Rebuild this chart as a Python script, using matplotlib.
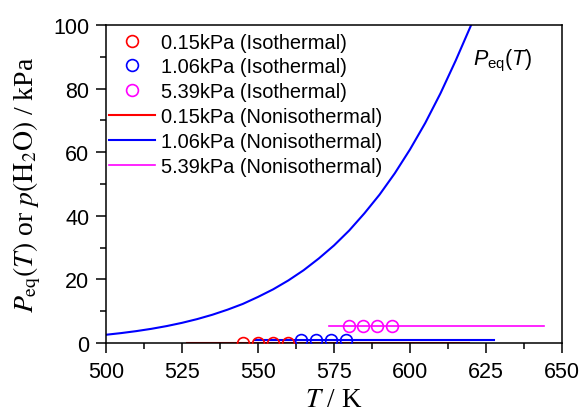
import matplotlib
matplotlib.use("Agg")
import matplotlib.pyplot as plt
from matplotlib.ticker import MultipleLocator

plt.rcParams['font.family'] = ['Liberation Sans', 'DejaVu Sans']
plt.rcParams['mathtext.fontset'] = 'custom'
plt.rcParams['mathtext.rm'] = 'Liberation Sans'
plt.rcParams['mathtext.it'] = 'Liberation Sans:italic'

# equilibrium pressure curve P_eq(T), kPa
T_eq = [500, 505, 510, 515, 520, 525, 530, 535, 540, 545, 550, 555, 560,
        565, 570, 575, 580, 585, 590, 595, 600, 605, 610, 615, 620, 621]
P_eq = [2.60, 3.13, 3.75, 4.48, 5.34, 6.35, 7.53, 8.90, 10.5, 12.3, 14.5,
        16.9, 19.7, 22.9, 26.6, 30.7, 35.4, 40.8, 46.7, 53.4, 60.9, 69.2,
        78.5, 88.8, 99.8, 101.8]

# isothermal runs
T_iso_015 = [545, 550, 555, 560]
T_iso_106 = [564, 569, 574, 579]
T_iso_539 = [580, 584.5, 589, 594]
p_015 = 0.15
p_106 = 1.06
p_539 = 5.39

# nonisothermal runs (temperature span)
T_non_015 = [526.5, 619.5]
T_non_106 = [549, 627.5]
T_non_539 = [573.5, 644]

fig = plt.figure(figsize=(5.81, 4.14), dpi=100)
ax = fig.add_axes([0.1824, 0.169, 0.785, 0.768])

ms = 8.5
ax.plot(T_iso_015, [p_015] * 4, 'o', mfc='none', mec='#ff0000', ms=ms, mew=1.2,
        label='0.15kPa (Isothermal)', zorder=3)
ax.plot(T_iso_106, [p_106] * 4, 'o', mfc='none', mec='#0000ff', ms=ms, mew=1.2,
        label='1.06kPa (Isothermal)', zorder=3)
ax.plot(T_iso_539, [p_539] * 4, 'o', mfc='none', mec='#ff00ff', ms=ms, mew=1.2,
        label='5.39kPa (Isothermal)', zorder=3)
ax.plot(T_non_015, [p_015] * 2, '-', color='#ff0000', lw=1.5,
        label='0.15kPa (Nonisothermal)', zorder=2)
ax.plot(T_non_106, [p_106] * 2, '-', color='#0000ff', lw=1.5,
        label='1.06kPa (Nonisothermal)', zorder=1)
ax.plot(T_non_539, [p_539] * 2, '-', color='#ff00ff', lw=1.2,
        label='5.39kPa (Nonisothermal)', zorder=2)
ax.plot(T_eq, P_eq, '-', color='#0000ff', lw=1.5)

ax.set_xlim(500, 650)
ax.set_ylim(0, 100)
ax.xaxis.set_major_locator(MultipleLocator(25))
ax.xaxis.set_minor_locator(MultipleLocator(12.5))
ax.yaxis.set_major_locator(MultipleLocator(20))
ax.yaxis.set_minor_locator(MultipleLocator(10))
ax.tick_params(which='major', direction='out', length=7, width=1.1, labelsize=15.5)
ax.tick_params(which='minor', direction='out', length=4, width=1.1)
ax.tick_params(axis='x', which='major', pad=6)
ax.tick_params(axis='y', which='major', pad=5)
for s in ax.spines.values():
    s.set_linewidth(1.1)

ax.set_xlabel('$T$ / K', fontfamily='Liberation Serif', math_fontfamily='stix',
              fontsize=19.5, labelpad=3.5)
ax.set_ylabel(r'$P_{\mathrm{eq}}(T)$ or $p(\mathrm{H_2O})$ / kPa',
              fontfamily='Liberation Serif', math_fontfamily='stix',
              fontsize=20, labelpad=7)

ax.text(0.805, 0.89, r'$P_{\mathrm{eq}}(T)$', transform=ax.transAxes,
        fontsize=15.5, ha='left', va='center')

ax.legend(loc='upper left', bbox_to_anchor=(-0.009, 1.0), frameon=False,
          fontsize=14.4, handlelength=2.3, handletextpad=0.3,
          labelspacing=0.29, borderaxespad=0.05, borderpad=0.33)

fig.savefig('out.png', dpi=100)
